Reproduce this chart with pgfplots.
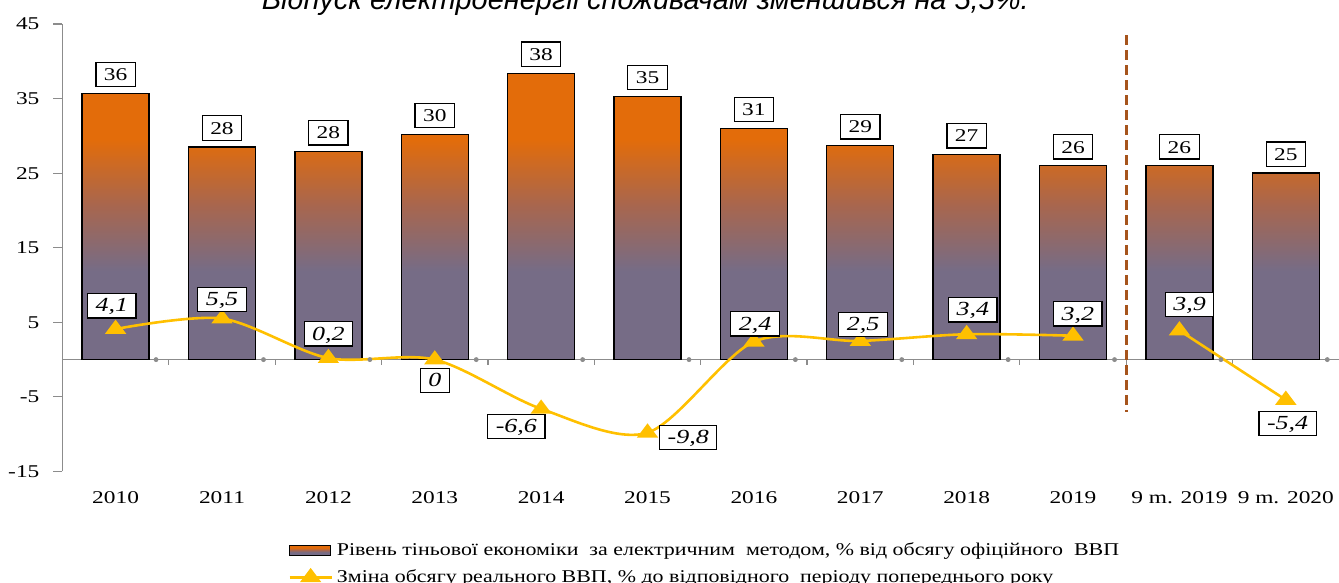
\documentclass[border=0pt]{standalone}
\usepackage{fontspec}
\setmainfont{Liberation Serif}[FakeStretch=1.3]
\newfontfamily\legfont{Liberation Serif}[FakeStretch=1.22]
\newfontfamily\topfont{Liberation Sans}
\usepackage{pgfplots}
\pgfplotsset{compat=1.18}
\usepackage{pgfplotstable}

\definecolor{barorange}{RGB}{227,108,10}
\definecolor{barpurple}{RGB}{118,108,134}
\definecolor{barmid}{RGB}{168,102,78}
\definecolor{linegold}{RGB}{255,192,0}
\definecolor{dashbrown}{RGB}{166,84,28}
\definecolor{axisgray}{RGB}{140,140,140}

\pgfdeclareverticalshading{barshade}{100bp}{color(0bp)=(barpurple); color(25bp)=(barpurple); color(40.5bp)=(barpurple); color(52bp)=(barmid); color(63.5bp)=(barorange); color(75bp)=(barorange); color(100bp)=(barorange)}

\pgfplotstableread{
x y lab
0 35.7 36
1 28.5 28
2 27.9 28
3 30.2 30
4 38.4 38
5 35.3 35
6 31.0 31
7 28.7 29
8 27.5 27
9 26.0 26
10 26.0 26
11 25.0 25
}\bardata

\pgfplotstableread{
x y lab dx dy
0 4.1 4,1 -1.9 11.7
1 5.5 5,5 0 9.5
2 0.2 0,2 0 12.2
3 0.0 0 0 -10.5
4 -6.6 -6,6 -12.4 -8.9
5 -9.8 -9,8 20.4 -2.4
6 2.4 2,4 0.6 9
7 2.5 2,5 1.4 8.2
8 3.4 3,4 3.1 12.3
9 3.2 3,2 2.4 11
}\lineA

\pgfplotstableread{
x y lab dx dy
10 3.9 3,9 5.1 13
11 -5.4 -5,4 0.9 -11.8
}\lineB

\begin{document}
\begin{tikzpicture}[font=\fontsize{9}{11}\selectfont]
\useasboundingbox (-31.25pt,-55.5pt) rectangle (639pt,236pt);
\begin{axis}[
  scale only axis, width=639pt, height=224pt,
  xmin=-0.5, xmax=11.5, ymin=-15, ymax=45,
  axis y line=left, axis x line=middle,
  axis line style={-, draw=axisgray, line width=0.7pt},
  ytick={-15,-5,5,15,25,35,45},
  xtick={0,...,11},
  xticklabels={2010,2011,2012,2013,2014,2015,2016,2017,2018,2019,9 m. 2019,9 m. 2020},
  minor xtick={0.5,1.5,...,10.5},
  major x tick style={draw=none},
  minor x tick style={draw=axisgray, line width=0.6pt},
  y tick style={draw=axisgray, line width=0.6pt},
  tick align=outside,
  major tick length=4.5pt, minor tick length=2.5pt,
  xticklabel style={yshift=-58pt},
  yticklabel style={xshift=-3.5pt},
  /pgf/number format/assume math mode=true,
  clip=false,
  legend style={draw=none, fill=none, at={(axis description cs:0.172,-0.14)}, anchor=north west, row sep=1.5pt, legend cell align=left, font=\legfont\fontsize{9}{11}\selectfont},
]
\addplot[ybar, bar width=0.63, draw=black, line width=0.7pt, shade, shading=barshade,
  point meta=explicit symbolic, nodes near coords,
  every node near coord/.append style={anchor=south, yshift=3pt, draw=black, fill=white, text=black, line width=0.6pt, inner xsep=4pt, inner ysep=3pt, text height=6.3pt, text depth=0pt},
  legend image code/.code={\draw[black, line width=0.6pt, shade, shading=barshade] (0pt,-2.5pt) rectangle (20.5pt,2.5pt);}
] table[x=x, y=y, meta=lab] {\bardata};
\addlegendentry{Рівень тіньової економіки\ \ за електричним\ \ методом, \% від обсягу офіційного\ \ ВВП}

\addplot[only marks, mark=*, mark size=1pt, color=axisgray, forget plot] coordinates {
(0.38,0) (1.39,0) (2.39,0) (3.39,0) (4.39,0) (5.39,0) (6.39,0) (7.39,0) (8.39,0) (9.39,0) (10.39,0) (11.39,0)};

\addplot[forget plot, draw=dashbrown, line width=1.6pt, dash pattern=on 5pt off 2.5pt] coordinates {(9.5,43.5) (9.5,-7)};

\addplot[color=linegold, line width=1.3pt, smooth, mark=triangle*, mark size=3.6pt,
  mark options={fill=linegold, draw=linegold, xscale=1.3},
  point meta=explicit symbolic,
  visualization depends on={\thisrow{dx} \as \dx},
  visualization depends on={\thisrow{dy} \as \dy},
  nodes near coords,
  every node near coord/.append style={anchor=center, xshift=\dx pt, yshift=\dy pt, draw=black, fill=white, text=black, line width=0.6pt, font=\itshape, inner xsep=4pt, inner ysep=3pt, text height=6.3pt, text depth=0pt},
  legend image code/.code={\draw[linegold, line width=1.3pt] (0pt,0pt) -- (21pt,0pt); \draw[linegold, fill=linegold, mark size=3.6pt, mark options={xscale=1.3}] plot[mark=triangle*] coordinates {(10.5pt,0pt)};}
] table[x=x, y=y, meta=lab] {\lineA};
\addlegendentry{Зміна обсягу реального ВВП, \% до відповідного\ \ періоду попереднього року}

\addplot[forget plot, color=linegold, line width=1.3pt, smooth, mark=triangle*, mark size=3.6pt,
  mark options={fill=linegold, draw=linegold, xscale=1.3},
  point meta=explicit symbolic,
  visualization depends on={\thisrow{dx} \as \dx},
  visualization depends on={\thisrow{dy} \as \dy},
  nodes near coords,
  every node near coord/.append style={anchor=center, xshift=\dx pt, yshift=\dy pt, draw=black, fill=white, text=black, line width=0.6pt, font=\itshape, inner xsep=4pt, inner ysep=3pt, text height=6.3pt, text depth=0pt}
] table[x=x, y=y, meta=lab] {\lineB};
\end{axis}
\node[anchor=base, font=\topfont\itshape\fontsize{14.5}{16}\selectfont] at (291.75pt,231pt) {Відпуск електроенергії споживачам зменшився на 5,5\%.};
\end{tikzpicture}
\end{document}
